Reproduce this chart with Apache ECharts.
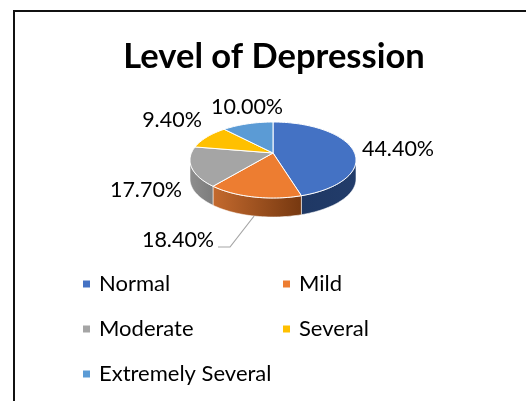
<!DOCTYPE html>
<html>
<head>
<meta charset="utf-8">
<script src="https://cdn.jsdelivr.net/npm/echarts@6/dist/echarts.min.js"></script>
<style>
	html, body { margin: 0; padding: 0; background: #fff; }
	#main { width: 526px; height: 401px; }
</style>
</head>
<body>
<div id="main"></div>
<script>
	var categories = ['Normal', 'Mild', 'Moderate', 'Several', 'Extremely Several'];
	var values = [44.4, 18.4, 17.7, 9.4, 10.0];

	var topColors = ['#4472C4', '#ED7D31', '#A5A5A5', '#FFC000', '#5B9BD5'];
	// side wall colours, left -> right
	var sideColors = [['#1F3864', '#223C6A'], ['#C46A2E', '#763810'], ['#8E8E8E', '#7C7C7C'], ['#BF9000', '#A67C00'], ['#41719C', '#2E5F8A']];
	// label offsets from pie centre
	var labelOffsets = [[125, -11], [-95, 80], [-127, 30], [-101, -40], [-26, -53]];
	var leaders = [false, true, false, false, false];

	var cx = 273, cy = 160, rx = 83, ry = 38, depth = 19, apexLift = 7;
	var total = values.reduce(function (a, b) { return a + b; }, 0);

	function pt(deg, dy) {
		var r = deg * Math.PI / 180;
		return [cx + rx * Math.sin(r), cy - ry * Math.cos(r) + (dy || 0)];
	}

	function arc(from, to, dy) {
		var pts = [];
		var n = Math.max(2, Math.ceil((to - from) / 2));
		for (var k = 0; k <= n; k++) {
			pts.push(pt(from + (to - from) * k / n, dy));
		}
		return pts;
	}

	function renderSlice(params, api) {
		var i = params.seriesIndex;
		var before = 0;
		for (var j = 0; j < i; j++) before += values[j];
		var a0 = before / total * 360;
		var a1 = (before + api.value(0)) / total * 360;
		var children = [];

		// front side wall
		var s = Math.max(a0, 90), e = Math.min(a1, 270);
		if (s < e) {
			var topEdge = arc(s, e, 0);
			var bottomEdge = arc(s, e, depth).reverse();
			children.push({
				type: 'polygon',
				z2: 1,
				shape: { points: topEdge.concat(bottomEdge) },
				style: {
					fill: {
						type: 'linear', x: 0, y: 0, x2: 1, y2: 0,
						colorStops: [
							{ offset: 0, color: sideColors[i][0] },
							{ offset: 1, color: sideColors[i][1] }
						]
					},
					stroke: 'rgba(255,255,255,0.7)',
					lineWidth: 0.8
				}
			});
		}

		// top face
		var apex = [cx, cy - apexLift];
		children.push({
			type: 'polygon',
			z2: 2,
			shape: { points: [apex].concat(arc(a0, a1, 0)) },
			style: { fill: topColors[i], stroke: '#fff', lineWidth: 1 }
		});

		// data label
		var lx = cx + labelOffsets[i][0], ly = cy + labelOffsets[i][1];
		children.push({
			type: 'text',
			z2: 3,
			x: lx,
			y: ly,
			style: {
				text: api.value(0).toFixed(2) + '%',
				align: 'center',
				verticalAlign: 'middle',
				fontFamily: 'Lato',
				fontSize: 21.5,
				fill: '#000'
			}
		});

		if (leaders[i]) {
			var mid = pt((a0 + a1) / 2, depth);
			children.push({
				type: 'polyline',
				z2: 3,
				shape: { points: [[lx + 40, ly + 7], [lx + 52, ly + 7], [mid[0], mid[1]]] },
				style: { stroke: '#A6A6A6', lineWidth: 1.2, fill: null }
			});
		}

		return { type: 'group', children: children };
	}

	var myChart = echarts.init(document.getElementById('main'));

	var series = [];
	for (var i = 0; i < categories.length; i++) {
		series.push({
			name: categories[i],
			type: 'custom',
			coordinateSystem: 'none',
			itemStyle: { color: topColors[i] },
			renderItem: renderSlice,
			data: [[values[i]]]
		});
	}

	var option = {
		animation: false,
		backgroundColor: '#fff',
		title: {
			text: 'Level of Depression',
			left: 269,
			textAlign: 'center',
			top: 34,
			textStyle: {
				fontFamily: 'Lato',
				fontWeight: 'bold',
				fontSize: 34.5,
				color: '#000'
			}
		},
		legend: {
			data: categories,
			left: 83,
			top: 266,
			width: 420,
			padding: 0,
			icon: 'rect',
			itemWidth: 7,
			itemHeight: 7,
			itemGap: 9,
			selectedMode: false,
			textStyle: {
				fontFamily: 'Lato',
				fontSize: 22,
				color: '#000',
				width: 175,
				lineHeight: 36,
				padding: [0, 0, 0, 4]
			}
		},
		graphic: [{
			type: 'polyline',
			shape: { points: [[14, 401], [14, 11], [526, 11]] },
			style: { stroke: '#111', lineWidth: 2, fill: null }
		}],
		series: series
	};

	option && myChart.setOption(option);
</script>
</body>
</html>
